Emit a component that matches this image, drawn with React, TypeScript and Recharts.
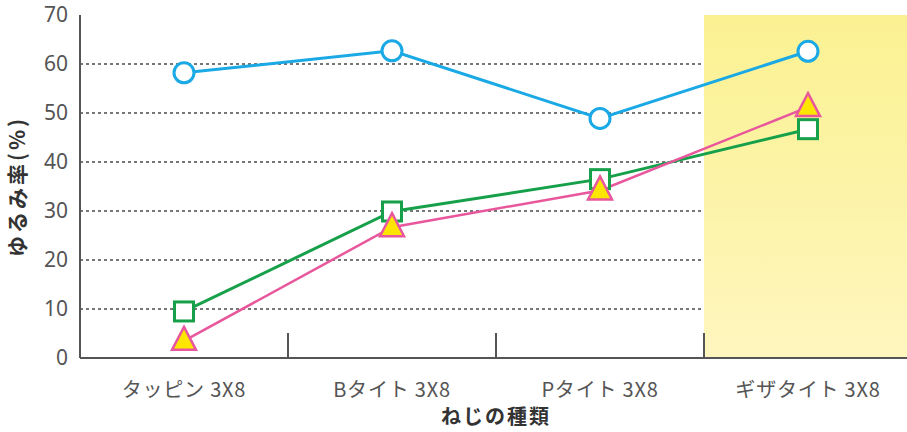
import React from 'react';
import {
  LineChart,
  Line,
  XAxis,
  YAxis,
  CartesianGrid,
  ReferenceArea,
  ReferenceLine,
} from 'recharts';

const categories = ['タッピン 3X8', 'Bタイト 3X8', 'Pタイト 3X8', 'ギザタイト 3X8'];
const circleSeries = [58.2, 62.7, 48.9, 62.6];
const squareSeries = [9.5, 29.9, 36.5, 46.7];
const triangleSeries = [3.5, 26.7, 34.2, 51.2];
const yTicks = [0, 10, 20, 30, 40, 50, 60, 70];
const gridValues = [10, 20, 30, 40, 50, 60];
const dividerPositions = [1, 2, 3];
const highlightFrom = 3;
const highlightTo = 4;

const BLUE = '#1AA9E4';
const GREEN = '#17A04A';
const PINK = '#E8579C';
const YELLOW = '#FFE600';
const AXIS = '#555555';
const FONT = '"Noto Sans CJK JP", "Noto Sans", sans-serif';
const NUM_FONT = '"Noto Sans", "Noto Sans CJK JP", sans-serif';

const data = categories.map((name, i) => ({
  x: i + 0.5,
  name,
  circle: circleSeries[i],
  square: squareSeries[i],
  triangle: triangleSeries[i],
}));

const CircleDot = (p: any) =>
  p.cx == null ? null : (
    <circle key={`c${p.index}`} cx={p.cx} cy={p.cy} r={10} fill="#fff" stroke={BLUE} strokeWidth={3} />
  );

const SquareDot = (p: any) =>
  p.cx == null ? null : (
    <rect key={`s${p.index}`} x={p.cx - 9.5} y={p.cy - 9.5} width={19} height={19} fill="#fff" stroke={GREEN} strokeWidth={3} />
  );

const TriangleDot = (p: any) =>
  p.cx == null ? null : (
    <polygon
      key={`t${p.index}`}
      points={`${p.cx},${p.cy - 14} ${p.cx + 12},${p.cy + 9} ${p.cx - 12},${p.cy + 9}`}
      fill={YELLOW}
      stroke={PINK}
      strokeWidth={2.5}
      strokeLinejoin="miter"
    />
  );

export default function App() {
  return (
    <div style={{ position: 'absolute', left: 0, top: 0, width: 907, height: 432, overflow: 'hidden', background: '#fff' }}>
      <LineChart
        width={920}
        height={432}
        data={data}
        margin={{ top: 15, right: 8, bottom: 0, left: 0 }}
        style={{ fontFamily: FONT }}
      >
        <defs>
          <linearGradient id="hl" x1="0" y1="0" x2="0" y2="1">
            <stop offset="0%" stopColor="#FBF192" />
            <stop offset="100%" stopColor="#FEF6BE" />
          </linearGradient>
        </defs>
        <ReferenceArea
          x1={highlightFrom}
          x2={highlightTo}
          y1={0}
          y2={70}
          fill="url(#hl)"
          fillOpacity={1}
          stroke="none"
          ifOverflow="visible"
        />
        <CartesianGrid
          vertical={false}
          horizontalValues={gridValues}
          stroke="#4a4a4a"
          strokeWidth={1.5}
          strokeDasharray="3 3"
        />
        <XAxis
          dataKey="x"
          type="number"
          domain={[0, 4]}
          ticks={data.map((d) => d.x)}
          tickFormatter={(v: number) => categories[Math.round(v - 0.5)] ?? ''}
          height={74}
          tickLine={false}
          tickSize={0}
          tickMargin={25}
          axisLine={{ stroke: AXIS, strokeWidth: 2 }}
          tick={{ fill: '#555', fontSize: 20, fontFamily: FONT, letterSpacing: 0.8 }}
          interval={0}
          label={{
            value: 'ねじの種類',
            position: 'insideBottom',
            offset: 8,
            style: { fill: '#333', fontSize: 20, fontWeight: 700, letterSpacing: 2, fontFamily: FONT },
          }}
        />
        <YAxis
          type="number"
          domain={[0, 70]}
          ticks={yTicks}
          width={80}
          tickLine={false}
          tickSize={0}
          tickMargin={12}
          axisLine={{ stroke: AXIS, strokeWidth: 2 }}
          tick={{ fill: '#555', fontSize: 21, fontFamily: NUM_FONT }}
          interval={0}
          label={{
            value: 'ゆるみ率(%)',
            angle: -90,
            position: 'insideLeft',
            offset: 18,
            style: { textAnchor: 'middle', fill: '#333', fontSize: 21, fontWeight: 700, letterSpacing: 3, fontFamily: FONT },
          }}
        />
        {dividerPositions.map((x) => (
          <ReferenceLine
            key={`d${x}`}
            segment={[
              { x, y: 0 },
              { x, y: 5.1 },
            ]}
            stroke={AXIS}
            strokeWidth={2}
            ifOverflow="visible"
          />
        ))}
        <Line
          dataKey="circle"
          stroke={BLUE}
          strokeWidth={3}
          dot={CircleDot}
          activeDot={false}
          isAnimationActive={false}
        />
        <Line
          dataKey="square"
          stroke={GREEN}
          strokeWidth={3}
          dot={SquareDot}
          activeDot={false}
          isAnimationActive={false}
        />
        <Line
          dataKey="triangle"
          stroke={PINK}
          strokeWidth={2.5}
          dot={TriangleDot}
          activeDot={false}
          isAnimationActive={false}
        />
      </LineChart>
    </div>
  );
}
